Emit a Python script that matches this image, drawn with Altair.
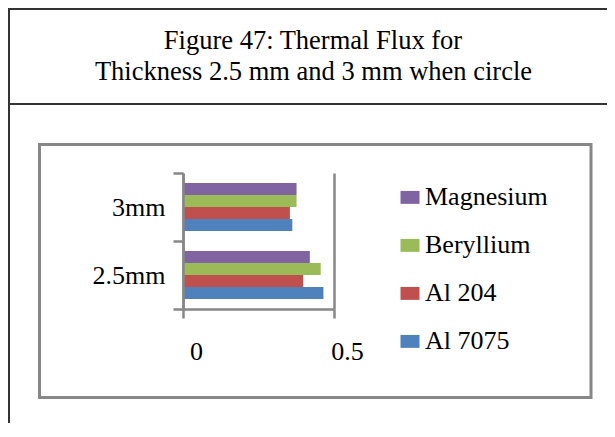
import altair as alt
import pandas as pd

# ---- data ----
categories = ["3mm", "2.5mm"]
materials = ["Magnesium", "Beryllium", "Al 204", "Al 7075"]
values_3mm = [0.376, 0.376, 0.354, 0.362]
values_2_5mm = [0.420, 0.456, 0.398, 0.465]
colors = ["#8064A2", "#9BBB59", "#C0504D", "#4F81BD"]
x_ticks = [0, 0.5]
title_lines = ["Figure 47: Thermal Flux for", "Thickness 2.5 mm and 3 mm when circle"]

rows = []
for cat, vals in zip(categories, [values_3mm, values_2_5mm]):
    for m, v in zip(materials, vals):
        rows.append({"thickness": cat, "material": m, "flux": v})
df = pd.DataFrame(rows)
one = pd.DataFrame({"k": [0]})

FONT = "Liberation Serif"
GREY = "#878787"
DARK = "#333333"

bars = alt.Chart(df).mark_bar().encode(
    y=alt.Y(
        "thickness:N",
        sort=categories,
        scale=alt.Scale(paddingInner=0, paddingOuter=0),
        axis=alt.Axis(
            title=None, domainColor=GREY, domainWidth=2.5, tickColor=GREY,
            tickWidth=2.5, tickSize=10, tickBand="extent", labelFont=FONT,
            labelFontSize=26, labelColor="black", labelPadding=8, grid=False,
            zindex=1,
        ),
    ),
    yOffset=alt.YOffset(
        "material:N", sort=materials,
        scale=alt.Scale(paddingInner=0, paddingOuter=0.83),
    ),
    x=alt.X(
        "flux:Q",
        scale=alt.Scale(domain=[0, 0.5], nice=False),
        axis=alt.Axis(
            title=None, values=x_ticks, format="~g", domainColor=GREY,
            domainWidth=2.5, tickColor=GREY, tickWidth=2.5, tickSize=9,
            grid=True, gridColor=GREY, gridWidth=2.5, gridOpacity=1,
            labelFont=FONT, labelFontSize=26, labelColor="black",
            labelFlush=False, labelOffset=13, labelBaseline="alphabetic",
            labelPadding=41,
        ),
    ),
    color=alt.Color(
        "material:N",
        scale=alt.Scale(domain=materials, range=colors),
        legend=alt.Legend(
            title=None, orient="none", legendX=214, legendY=11.4,
            symbolType="M-1,-0.68H1V0.68H-1Z", symbolSize=361,
            symbolStrokeWidth=0, labelFont=FONT, labelFontSize=26,
            labelOffset=2, rowPadding=22, padding=0, labelColor="black",
            labelLimit=300,
        ),
    ),
)

box = alt.Chart(one).mark_rect(fill="transparent", stroke=GREY, strokeWidth=3).encode(
    x=alt.value(-143.5), x2=alt.value(408), y=alt.value(-28.5), y2=alt.value(224.5)
)
left_border = alt.Chart(one).mark_rule(color=DARK, strokeWidth=2).encode(
    x=alt.value(-174), x2=alt.value(-174), y=alt.value(-165), y2=alt.value(250)
)
top_border = alt.Chart(one).mark_rule(color=DARK, strokeWidth=2).encode(
    x=alt.value(-174), x2=alt.value(424), y=alt.value(-164), y2=alt.value(-164)
)
sep = alt.Chart(one).mark_rule(color=DARK, strokeWidth=2).encode(
    x=alt.value(-174), x2=alt.value(424), y=alt.value(-69), y2=alt.value(-69)
)
t1 = alt.Chart(one).mark_text(
    text=title_lines[0], font=FONT, fontSize=26.5, align="center",
    baseline="alphabetic", color="black",
).encode(x=alt.value(130), y=alt.value(-123.7))
t2 = alt.Chart(one).mark_text(
    text=title_lines[1], font=FONT, fontSize=26.5, align="center",
    baseline="alphabetic", color="black",
).encode(x=alt.value(130.5), y=alt.value(-93))

chart = alt.layer(box, left_border, top_border, sep, t1, t2, bars).properties(
    width=151,
    height=136,
    padding={"left": 175, "top": 165, "right": 273, "bottom": 114},
    autosize=alt.AutoSizeParams(type="none"),
).configure_view(stroke=None).configure_legend(
    labelFont=FONT, labelFontSize=26, labelColor="black"
)

chart.save("out.html", embed_options={"renderer": "svg", "actions": False})
